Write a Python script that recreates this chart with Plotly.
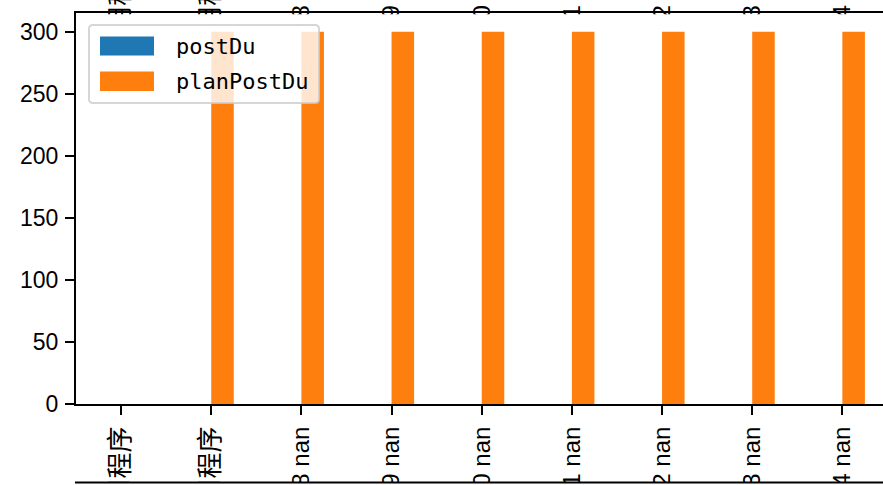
import plotly.graph_objects as go

# ---- data ----
categories = ["网页应用程序", "移动应用程序", "18 nan", "19 nan", "20 nan",
              "21 nan", "22 nan", "23 nan", "24 nan"]
upper_tick_labels = ["用程序", "用程序", "18 nan", "19 nan", "20 nan",
                     "21 nan", "22 nan", "23 nan", "24 nan"]
series_names = ["postDu", "planPostDu"]
post_du = [None, None, None, None, None, None, None, None, None]
plan_post_du = [None, 300, 300, 300, 300, 300, 300, 300, 300]
y_ticks = [0, 50, 100, 150, 200, 250, 300]

colors = ["#1f77b4", "#ff7f0e"]

W, H = 883, 485
ML, MR, MT, MB = 76, 0, 13, 81
PW, PH = W - ML - MR, H - MT - MB


def px_x(px):
    return (px - ML) / PW


def px_y(py):
    return (H - MB - py) / PH


def style_label(s):
    # CJK glyphs are drawn a little larger, as in the original font
    out = ""
    for ch in s:
        if ord(ch) > 0x2E80:
            out += f'<span style="font-size:26px">{ch}</span>'
        else:
            out += ch
    return out


tick_font = dict(family="Liberation Sans, Noto Sans CJK SC", size=23, color="black")
xtick_font = dict(family="Liberation Sans, Noto Sans CJK SC", size=24, color="black")

fig = go.Figure()
fig.add_trace(go.Bar(x=list(range(len(categories))), y=post_du, name=series_names[0],
                     marker=dict(color=colors[0], line=dict(width=0)), showlegend=False))
fig.add_trace(go.Bar(x=list(range(len(categories))), y=plan_post_du, name=series_names[1],
                     marker=dict(color=colors[1], line=dict(width=0)), showlegend=False))
# carrier for the upper (neighbouring subplot) tick labels
fig.add_trace(go.Scatter(x=[], y=[], xaxis="x2", yaxis="y", showlegend=False, hoverinfo="skip"))

x_range = [-0.5, -0.5 + PW / 90.16]

fig.update_layout(
    template="none",
    width=W, height=H,
    margin=dict(l=ML, r=MR, t=MT, b=MB, pad=0),
    paper_bgcolor="white", plot_bgcolor="white",
    barmode="group", bargap=0.5, bargroupgap=0,
    showlegend=False,
    xaxis=dict(
        range=x_range, tickmode="array", tickvals=list(range(len(categories))),
        ticktext=[style_label(c) for c in categories], tickangle=-90, tickfont=xtick_font,
        showline=True, linecolor="black", linewidth=2, mirror=True,
        ticks="outside", ticklen=9, tickwidth=2, tickcolor="black",
        showgrid=False, zeroline=False, automargin=False,
        ticklabelstandoff=2,
    ),
    xaxis2=dict(
        overlaying="x", side="top", anchor="free", position=px_y(31.8),
        range=x_range, tickmode="array", tickvals=list(range(len(categories))),
        ticktext=[style_label(c) for c in upper_tick_labels], tickangle=-90, tickfont=xtick_font,
        showline=False, ticks="", showgrid=False, zeroline=False, automargin=False,
    ),
    yaxis=dict(
        range=[0, 315], tickmode="array", tickvals=y_ticks, tickfont=tick_font,
        showline=True, linecolor="black", linewidth=2, mirror=False,
        ticks="outside", ticklen=9, tickwidth=2, tickcolor="black",
        showgrid=False, zeroline=False, automargin=False,
        ticklabelstandoff=2,
    ),
)

shapes = []
# white cover hiding the lower part of the upper subplot's labels
shapes.append(dict(type="rect", xref="paper", yref="paper", layer="above",
                   x0=px_x(77), x1=px_x(W + 5), y0=px_y(14.2), y1=px_y(31.4),
                   fillcolor="white", line=dict(width=0)))
# next subplot (below) covering the rest of the tick labels
shapes.append(dict(type="rect", xref="paper", yref="paper", layer="above",
                   x0=px_x(0), x1=px_x(W + 5), y0=px_y(482), y1=px_y(H + 10),
                   fillcolor="white", line=dict(width=0)))
shapes.append(dict(type="line", xref="paper", yref="paper", layer="above",
                   x0=px_x(75), x1=px_x(W + 5), y0=px_y(482.5), y1=px_y(482.5),
                   line=dict(color="black", width=2)))

# legend box with rounded corners
bx0, bx1, by0, by1, r = 89, 319, 25, 103, 4
path = (f"M {px_x(bx0 + r)},{px_y(by0)} L {px_x(bx1 - r)},{px_y(by0)} "
        f"Q {px_x(bx1)},{px_y(by0)} {px_x(bx1)},{px_y(by0 + r)} "
        f"L {px_x(bx1)},{px_y(by1 - r)} Q {px_x(bx1)},{px_y(by1)} {px_x(bx1 - r)},{px_y(by1)} "
        f"L {px_x(bx0 + r)},{px_y(by1)} Q {px_x(bx0)},{px_y(by1)} {px_x(bx0)},{px_y(by1 - r)} "
        f"L {px_x(bx0)},{px_y(by0 + r)} Q {px_x(bx0)},{px_y(by0)} {px_x(bx0 + r)},{px_y(by0)} Z")
shapes.append(dict(type="path", xref="paper", yref="paper", layer="above", path=path,
                   fillcolor="rgba(255,255,255,0.8)",
                   line=dict(color="rgba(204,204,204,0.8)", width=2)))

annotations = []
entry_y = [(36.5, 55.5), (71.5, 91)]
for i, name in enumerate(series_names):
    y0, y1 = entry_y[i]
    shapes.append(dict(type="rect", xref="paper", yref="paper", layer="above",
                       x0=px_x(100), x1=px_x(154), y0=px_y(y1), y1=px_y(y0),
                       fillcolor=colors[i], line=dict(width=0)))
    annotations.append(dict(xref="paper", yref="paper", x=px_x(174), y=px_y((y0 + y1) / 2),
                            xanchor="left", yanchor="middle", showarrow=False, text=name,
                            font=dict(family="DejaVu Sans Mono", size=22, color="black")))

fig.update_layout(shapes=shapes, annotations=annotations)

fig.write_html("out.html", config={"displayModeBar": False},
               post_script="document.body.style.margin='0';document.body.style.overflow='hidden';")
